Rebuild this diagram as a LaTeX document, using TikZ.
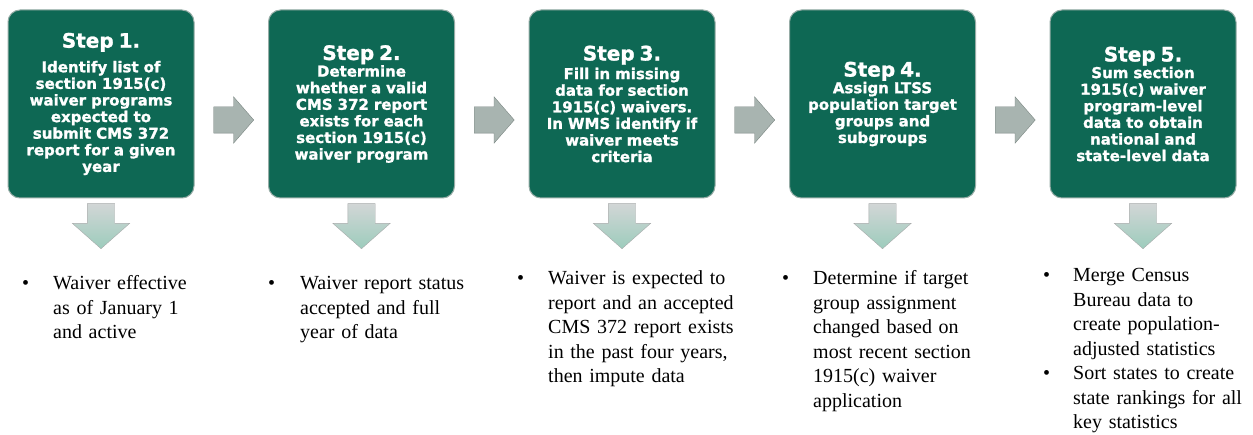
\documentclass[tikz,border=0pt]{standalone}
\usepackage{fontspec}
\setmainfont{Liberation Serif}
\newfontfamily\stepfont{DejaVu Sans Bold}[FakeBold=1.2]
\usetikzlibrary{positioning,shapes.arrows,calc}
\definecolor{stepgreen}{RGB}{14,104,84}
\definecolor{stepedge}{RGB}{150,172,166}
\definecolor{arrowgray}{RGB}{168,180,176}
\definecolor{arrowedge}{RGB}{122,134,130}
\definecolor{arrowtop}{RGB}{210,214,214}
\definecolor{arrowbottom}{RGB}{156,204,188}
\newcommand{\steptitle}[1]{{\fontsize{20}{20}\selectfont #1}}

\begin{document}
\begin{tikzpicture}[x=1pt,y=-1pt,node distance=73.5pt,
  stepbox/.style={draw=stepedge,fill=stepgreen,rounded corners=12pt,line width=1pt,
    minimum width=186pt,minimum height=188pt,text width=180pt,align=center,
    text=white,font=\stepfont\bfseries\fontsize{15}{16.6}\selectfont,inner sep=0pt},
  rightarrow/.style={single arrow,draw=arrowedge,fill=arrowgray,minimum width=46pt,
    minimum height=40pt,single arrow head extend=10pt,single arrow tip angle=98,
    inner xsep=0pt,inner ysep=13pt,anchor=tail},
  downarrow/.style={single arrow,shape border rotate=270,draw=arrowtop!80!black,
    top color=arrowtop,bottom color=arrowbottom,minimum width=57pt,
    minimum height=45pt,single arrow head extend=15pt,single arrow tip angle=97,
    inner sep=13.5pt,anchor=tail},
  bullet/.style={anchor=base west,font=\fontsize{20}{24.5}\selectfont,inner sep=0pt},
  itemtext/.style={bullet,text width=190pt,align=left}]
\useasboundingbox[fill=white] (0,0) rectangle (1253,435);
% steps
\node[stepbox] (step1) at (101,104) {\steptitle{Step 1.}\\[8pt]Identify list of\\
  section 1915(c)\\waiver programs\\expected to\\submit CMS 372\\report for a given\\year};
\node[stepbox,right=of step1] (step2) {\steptitle{Step 2.}\\Determine\\
  whether a valid\\CMS 372 report\\exists for each\\section 1915(c)\\waiver program};
\node[stepbox,right=of step2] (step3) {\steptitle{Step 3.}\\[2pt]Fill in missing\\
  data for section\\1915(c) waivers.\\In WMS identify if\\waiver meets\\criteria};
\node[stepbox,right=of step3] (step4) {\steptitle{Step 4.}\\Assign LTSS\\
  population target\\groups and\\subgroups};
\node[stepbox,right=of step4] (step5) {\steptitle{Step 5.}\\Sum section\\
  1915(c) waiver\\program-level\\data to obtain\\national and\\state-level data};
% arrows between steps
\node[rightarrow] (a12) at ($(step1.east)+(19,16)$) {};
\node[rightarrow] (a23) at ($(step2.east)+(19,16)$) {};
\node[rightarrow] (a34) at ($(step3.east)+(19,16)$) {};
\node[rightarrow] (a45) at ($(step4.east)+(19,16)$) {};
% arrows down to the checks
\node[downarrow] (d1) at ($(step1.south)+(0,5)$) {};
\node[downarrow] (d2) at ($(step2.south)+(0,5)$) {};
\node[downarrow] (d3) at ($(step3.south)+(0,5)$) {};
\node[downarrow] (d4) at ($(step4.south)+(0,5)$) {};
\node[downarrow] (d5) at ($(step5.south)+(0,5)$) {};
% bullet points
\node[bullet] (dot1) at (22,290) {\textbullet};
\node[itemtext] (item1) at (53,290) {Waiver effective\\as of January 1\\and active};
\node[bullet] (dot2) at (268,290) {\textbullet};
\node[itemtext] (item2) at (300,290) {Waiver report status\\accepted and full\\year of data};
\node[bullet] (dot3) at (517,285) {\textbullet};
\node[itemtext] (item3) at (548,285) {Waiver is expected to\\report and an accepted\\
  CMS 372 report exists\\in the past four years,\\then impute data};
\node[bullet] (dot4) at (782,285) {\textbullet};
\node[itemtext] (item4) at (813,285) {Determine if target\\group assignment\\
  changed based on\\most recent section\\1915(c) waiver\\application};
\node[bullet] (dot5a) at (1043,282) {\textbullet};
\node[itemtext] (item5a) at (1073,282) {Merge Census\\Bureau data to\\
  create population-\\adjusted statistics};
\node[bullet] (dot5b) at (1043,380) {\textbullet};
\node[itemtext] (item5b) at (1073,380) {Sort states to create\\state rankings for all\\
  key statistics};
\end{tikzpicture}
\end{document}
